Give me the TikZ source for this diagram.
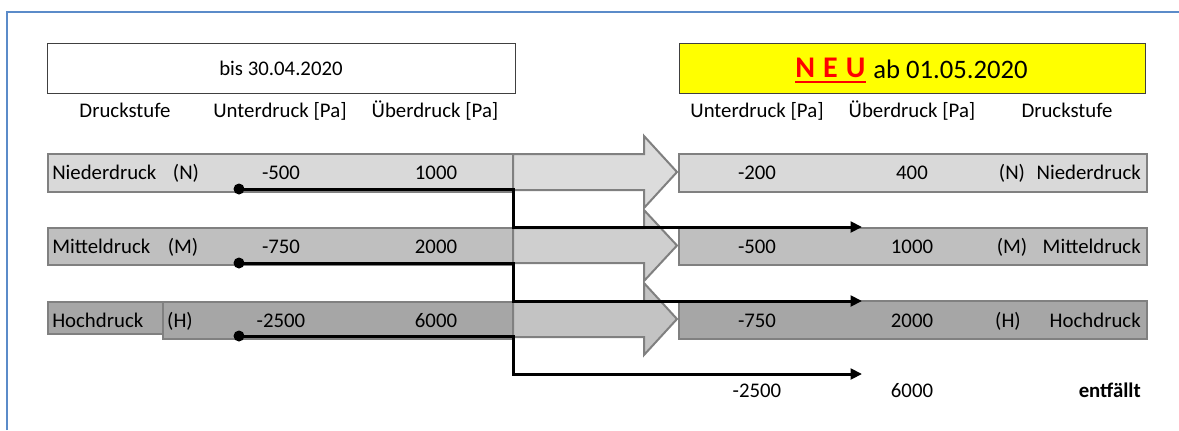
\documentclass[tikz,border=0pt]{standalone}
\usepackage{fontspec}
\setmainfont{Carlito}
\usetikzlibrary{arrows.meta}
\definecolor{frameblue}{HTML}{5B8BC9}
\definecolor{fillN}{HTML}{D9D9D9}
\definecolor{fillM}{HTML}{BFBFBF}
\definecolor{fillH}{HTML}{A6A6A6}
\definecolor{bordergray}{HTML}{808080}
\definecolor{arrN}{HTML}{DCDCDC}
\definecolor{arrM}{HTML}{CFCFCF}
\definecolor{arrH}{HTML}{C3C3C3}
\definecolor{neuyellow}{HTML}{FFFF00}
\definecolor{neured}{HTML}{FF0000}
\begin{document}
\begin{tikzpicture}[x=0.75pt,y=-0.75pt,
  txt/.style={inner sep=0pt, font=\fontsize{15.6}{18}\selectfont},
  bigtxt/.style={inner sep=0pt, font=\fontsize{20}{24}\selectfont},
  barbox/.style={draw=bordergray, line width=1.5pt, inner sep=0pt, anchor=north west},
  titlebox/.style={draw=black!75, line width=0.9pt, inner sep=0pt, anchor=north west,
    minimum width={466*0.75pt}, minimum height={50*0.75pt}},
  blockarrow/.style={draw=bordergray, line width=1.5pt, line join=miter},
  conn/.style={line width=2.25pt, -{Triangle[length=8.5pt,width=8pt]}},
  dotnode/.style={circle, fill=black, inner sep=0pt, minimum size=8.25pt}
]
\useasboundingbox (0,0) rectangle (1179,430);
% frame
\draw[frameblue, line width=1.5pt] (7,430) -- (7,12) -- (1179,12);

% title boxes
\node[titlebox, minimum width={468*0.75pt}] (oldbox) at (47,43) {};
\node[txt, anchor=base] (oldtitle) at (281,75) {bis 30.04.2020};
\node[titlebox, fill=neuyellow] (newbox) at (679,43) {};
\node[inner sep=0pt, anchor=base west, text=neured, font=\fontsize{22.5}{26}\selectfont\bfseries] (neu) at (795,77) {N\hspace{0.27em}E\hspace{0.27em}U};
\draw[neured, line width=2pt] ([yshift=-3.8pt]neu.base west) -- ([yshift=-3.8pt]neu.base east);
\node[bigtxt, anchor=base west] (newtitle) at (873,78) {ab 01.05.2020};

% header rows
\node[txt, anchor=base] (hl1) at (125,117) {Druckstufe};
\node[txt, anchor=base] (hl2) at (280,117) {Unterdruck [Pa]};
\node[txt, anchor=base] (hl3) at (435,117) {Überdruck [Pa]};
\node[txt, anchor=base] (hr1) at (757,117) {Unterdruck [Pa]};
\node[txt, anchor=base] (hr2) at (912,117) {Überdruck [Pa]};
\node[txt, anchor=base] (hr3) at (1067,117) {Druckstufe};

% left bars
\node[barbox, fill=fillN, minimum width={466*0.75pt}, minimum height={38*0.75pt}] (lN) at (47,153) {};
\node[barbox, fill=fillM, minimum width={466*0.75pt}, minimum height={37*0.75pt}] (lM) at (47,227) {};
\node[barbox, fill=fillH, minimum width={115*0.75pt}, minimum height={32*0.75pt}] (lHa) at (47,301) {};
\node[barbox, fill=fillH, minimum width={351*0.75pt}, minimum height={37*0.75pt}] (lHb) at (162,301) {};

% right bars
\node[barbox, fill=fillN, minimum width={468*0.75pt}, minimum height={38*0.75pt}] (rN) at (678,153) {};
\node[barbox, fill=fillM, minimum width={468*0.75pt}, minimum height={37*0.75pt}] (rM) at (678,227) {};
\node[barbox, fill=fillH, minimum width={468*0.75pt}, minimum height={38*0.75pt}] (rH) at (678,300) {};

% block arrows
\draw[blockarrow, fill=arrN] (513,154) -- (644,154) -- (644,136) -- (677,172) -- (644,208) -- (644,190) -- (513,190) -- cycle;
\draw[blockarrow, fill=arrM] (513,228) -- (644,228) -- (644,210) -- (677,245.5) -- (644,281) -- (644,263) -- (513,263) -- cycle;
\draw[blockarrow, fill=arrH] (513,301) -- (644,301) -- (644,283) -- (677,319) -- (644,355) -- (644,337) -- (513,337) -- cycle;

% connectors
\node[dotnode] (dN) at (239,189) {};
\node[dotnode] (dM) at (239,263) {};
\node[dotnode] (dH) at (239,336) {};
\coordinate (kN) at (513,189);
\coordinate (kM) at (513,263);
\coordinate (kH) at (513,336);
\coordinate (eN) at (862,227);
\coordinate (eM) at (862,301);
\coordinate (eH) at (862,374);
\draw[conn] (dN.center) -- (kN) |- (eN);
\draw[conn] (dM.center) -- (kM) |- (eM);
\draw[conn] (dH.center) -- (kH) |- (eH);

% left row texts
\node[txt, anchor=base west] (tN1) at (52,179) {Niederdruck};
\node[txt, anchor=base] (tN2) at (186,179) {(N)};
\node[txt, anchor=base] (tN3) at (281,179) {-500};
\node[txt, anchor=base] (tN4) at (436,179) {1000};
\node[txt, anchor=base west] (tM1) at (52,253) {Mitteldruck};
\node[txt, anchor=base] (tM2) at (183,253) {(M)};
\node[txt, anchor=base] (tM3) at (281,253) {-750};
\node[txt, anchor=base] (tM4) at (436,253) {2000};
\node[txt, anchor=base west] (tH1) at (52,327) {Hochdruck};
\node[txt, anchor=base] (tH2) at (180,327) {(H)};
\node[txt, anchor=base] (tH3) at (281,327) {-2500};
\node[txt, anchor=base] (tH4) at (436,327) {6000};

% right row texts
\node[txt, anchor=base] (uN1) at (757,179) {-200};
\node[txt, anchor=base] (uN2) at (912,179) {400};
\node[txt, anchor=base] (uN3) at (1012,179) {(N)};
\node[txt, anchor=base east] (uN4) at (1141,179) {Niederdruck};
\node[txt, anchor=base] (uM1) at (757,253) {-500};
\node[txt, anchor=base] (uM2) at (912,253) {1000};
\node[txt, anchor=base] (uM3) at (1012,253) {(M)};
\node[txt, anchor=base east] (uM4) at (1141,253) {Mitteldruck};
\node[txt, anchor=base] (uH1) at (757,327) {-750};
\node[txt, anchor=base] (uH2) at (912,327) {2000};
\node[txt, anchor=base] (uH3) at (1008,327) {(H)};
\node[txt, anchor=base east] (uH4) at (1141,327) {Hochdruck};
\node[txt, anchor=base] (uX1) at (757,397) {-2500};
\node[txt, anchor=base] (uX2) at (912,397) {6000};
\node[txt, anchor=base east, font=\fontsize{15.6}{18}\selectfont\bfseries] (uX3) at (1141,397) {entfällt};
\end{tikzpicture}
\end{document}
